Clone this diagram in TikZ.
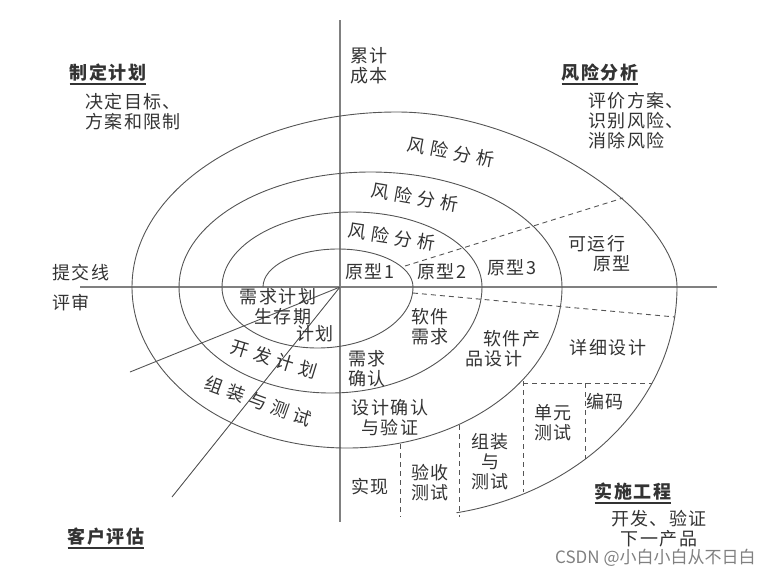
\documentclass[tikz,border=0pt]{standalone}
\usepackage{fontspec}
\setmainfont{Noto Sans CJK SC}
\newfontfamily\zhfont[LetterSpace=8]{Noto Sans CJK SC}
\newfontfamily\wmfont{Noto Sans CJK SC}
\definecolor{ink}{HTML}{333333}
\definecolor{wire}{HTML}{555555}
\tikzset{
  lbl/.style={font=\zhfont\fontsize{18}{20}\selectfont, text=ink, inner sep=0pt, align=center},
  note/.style={lbl, align=left},
  head/.style={lbl, font=\zhfont\bfseries\fontsize{18}{20}\selectfont},
  bar/.style={draw=ink, line width=2.4pt},
  spiral/.style={draw=wire, line width=0.9pt},
  axis/.style={draw=gray, line width=1.5pt},
  cut/.style={draw=wire, line width=0.9pt, dash pattern=on 5pt off 4pt},
}
\begin{document}
\begin{tikzpicture}[x=1pt, y=-1pt]
	\useasboundingbox (0,0) rectangle (767,576);

	% axes
	\coordinate (o) at (340,287);
	\draw[axis] (80,287) -- (717,287);
	\draw[axis] (340,20) -- (340,522);

	% spiral, half ellipses from the middle outwards
	\draw[spiral] (263,287)
		arc[start angle=180, end angle=360, x radius=75, y radius=38]
		arc[start angle=0, end angle=180, x radius=95.5, y radius=61]
		arc[start angle=180, end angle=360, x radius=130, y radius=75]
		arc[start angle=0, end angle=180, x radius=151.5, y radius=106]
		arc[start angle=180, end angle=360, x radius=191.5, y radius=115]
		arc[start angle=0, end angle=180, x radius=215, y radius=161]
		.. controls (132,190) and (251,112) .. (397,112)
		.. controls (530,112) and (677,215) .. (677,287)
		arc[start angle=0, end angle=79, x radius=272.5, y radius=230];

	% rays to the lower left
	\coordinate (rayA) at (130,372);
	\coordinate (rayB) at (172,497);
	\draw[spiral] (o) -- (rayA);
	\draw[spiral] (o) -- (rayB);

	% dashed sectors
	\draw[cut] (405,266) -- (623,198);
	\draw[cut] (413,293) -- (675,317);
	\draw[cut] (400,444) -- (400,517);
	\draw[cut] (459,425) -- (459,517);
	\draw[cut] (523,381) -- (523,492);
	\draw[cut] (523,383) -- (652,383);
	\draw[cut] (585,383) -- (585,459);

	% quadrant headings
	\node[head] (plan) at (108,73) {制定计划};
	\node[note, anchor=west] (planTxt) at (85,112) {决定目标、\\方案和限制};
	\node[head] (risk) at (600,73) {风险分析};
	\node[note, anchor=west] (riskTxt) at (588,121) {评价方案、\\识别风险、\\消除风险};
	\node[head] (build) at (633,492) {实施工程};
	\node[lbl] (buildTxt) at (659,529) {开发、验证\\下一产品};
	\node[head] (client) at (106,537) {客户评估};
	\foreach \n in {plan,risk,build,client}
		\draw[bar] ([yshift=-2pt]\n.south west) -- ([yshift=-2pt]\n.south east);

	\node[note, anchor=west] (cost) at (350,66) {累计\\成本};
	\node[note, anchor=west] (commit) at (52,273) {提交线};
	\node[note, anchor=west] (review) at (52,303) {评审};

	% upper half
	\node[lbl, rotate=-11] (risk3) at (451,152) {风 险 分 析};
	\node[lbl, rotate=-10] (risk2) at (415,197) {风 险 分 析};
	\node[lbl, rotate=-9] (risk1) at (392,237) {风 险 分 析};
	\node[lbl] (proto1) at (370,272) {原型1};
	\node[lbl] (proto2) at (442,272) {原型2};
	\node[lbl] (proto3) at (512,268) {原型3};
	\node[note, anchor=west] (protoRun) at (568,254) {可运行\\\hspace*{1.4em}原型};

	% lower half
	\node[lbl] (reqPlan) at (278,297) {需求计划};
	\node[lbl] (life) at (283,317) {生存期};
	\node[lbl] (lifePlan) at (315,334) {计划};
	\node[lbl, rotate=-17] (devPlan) at (274,359) {开 发 计 划};
	\node[lbl, rotate=-20] (assy) at (258,401) {组 装 与 测 试};
	\node[lbl] (swReq) at (430,327) {软件\\需求};
	\node[lbl] (reqChk) at (367,369) {需求\\确认};
	\node[note, anchor=west] (prodDes) at (465,349) {\hspace*{1em}软件产\\品设计};
	\node[lbl] (detail) at (608,348) {详细设计};
	\node[lbl] (desChk) at (390,418) {设计确认\\与验证};
	\node[lbl] (impl) at (370,487) {实现};
	\node[lbl] (accept) at (430,483) {验收\\测试};
	\node[lbl] (assy2) at (490,462) {组装\\与\\测试};
	\node[lbl] (unit) at (553,423) {单元\\测试};
	\node[lbl] (code) at (605,402) {编码};

	\node[font=\wmfont\fontsize{17}{17}\selectfont, text=gray, inner sep=0pt, anchor=west] (csdn) at (555,558) {CSDN @小白小白从不日白};
\end{tikzpicture}
\end{document}
